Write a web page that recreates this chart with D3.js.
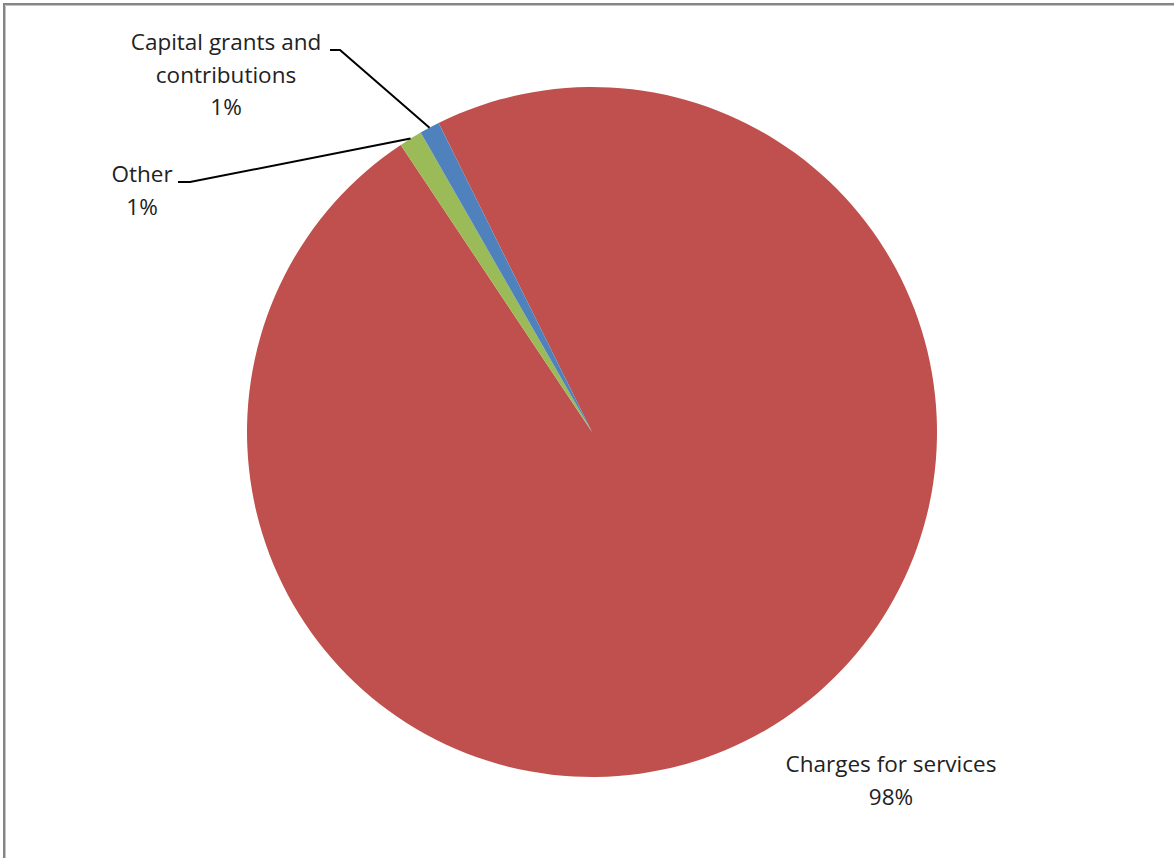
<!DOCTYPE html>
<html>
<head>
<meta charset="utf-8">
<script src="https://cdn.jsdelivr.net/npm/d3@7"></script>
<style>
  body { margin: 0; background: #fff; }
  svg { display: block; }
  .label { font-family: "Open Sans", Lato, sans-serif; font-size: 22.5px; fill: #222; font-variant-ligatures: none; }
</style>
</head>
<body>
<svg id="chart"></svg>
<script>
// data, in the clockwise order the slices are drawn
const categories = ['Charges for services', 'Other', 'Capital grants and contributions'];
const values = [97.97, 1.08, 0.94];
const colors = ['#C0504D', '#9BBB59', '#4F81BD'];
// label lines as they wrap in the picture
const labelLines = [['Charges for services'], ['Other'], ['Capital grants and', 'contributions']];

const width = 1174, height = 858;
const cx = 592, cy = 432, radius = 345;
const startDeg = -26.4;

const svg = d3.select('#chart')
    .attr('width', width)
    .attr('height', height);

// frame (only top and left visible in the crop)
svg.append('path')
    .attr('d', `M4,${height} V4 H${width}`)
    .attr('fill', 'none')
    .attr('stroke', '#858585')
    .attr('stroke-width', 2);
svg.append('path')
    .attr('d', `M5.5,${height} V5.5 H${width}`)
    .attr('fill', 'none')
    .attr('stroke', '#c4c4c4')
    .attr('stroke-width', 1);

const data = categories.map((c, i) => ({ name: c, value: values[i], color: colors[i], lines: labelLines[i] }));

const start = startDeg * Math.PI / 180;
const pie = d3.pie()
    .sort(null)
    .value(d => d.value)
    .startAngle(start)
    .endAngle(start + 2 * Math.PI);

const arc = d3.arc().innerRadius(0).outerRadius(radius);

const arcs = pie(data);
const g = svg.append('g').attr('transform', `translate(${cx},${cy})`);

g.selectAll('path.slice')
    .data(arcs)
    .enter()
    .append('path')
    .attr('class', 'slice')
    .attr('d', arc)
    .attr('fill', d => d.data.color);

const total = d3.sum(values);
const pct = v => Math.round(v / total * 100) + '%';

// label placement (label centre x, first baseline y, leader line elbow)
const labelPos = {
    'Charges for services': { x: 891, y: 772, leader: null },
    'Other': { x: 142, y: 182, leader: { x0: 178, x1: 190, y: 182 } },
    'Capital grants and contributions': { x: 226, y: 50, leader: { x0: 330, x1: 340, y: 50 } }
};
const lineH = 32.5;

arcs.forEach(a => {
    const p = labelPos[a.data.name];
    const t = svg.append('text')
        .attr('class', 'label')
        .attr('text-anchor', 'middle');
    a.data.lines.concat([pct(a.data.value)]).forEach((s, i) => {
        t.append('tspan')
            .attr('x', p.x)
            .attr('y', p.y + i * lineH)
            .text(s);
    });
    if (p.leader) {
        const mid = (a.startAngle + a.endAngle) / 2;
        const ex = cx + radius * Math.sin(mid);
        const ey = cy - radius * Math.cos(mid);
        svg.append('path')
            .attr('d', `M${p.leader.x0},${p.leader.y} H${p.leader.x1} L${ex},${ey}`)
            .attr('fill', 'none')
            .attr('stroke', '#000')
            .attr('stroke-width', 2);
    }
});
</script>
</body>
</html>
